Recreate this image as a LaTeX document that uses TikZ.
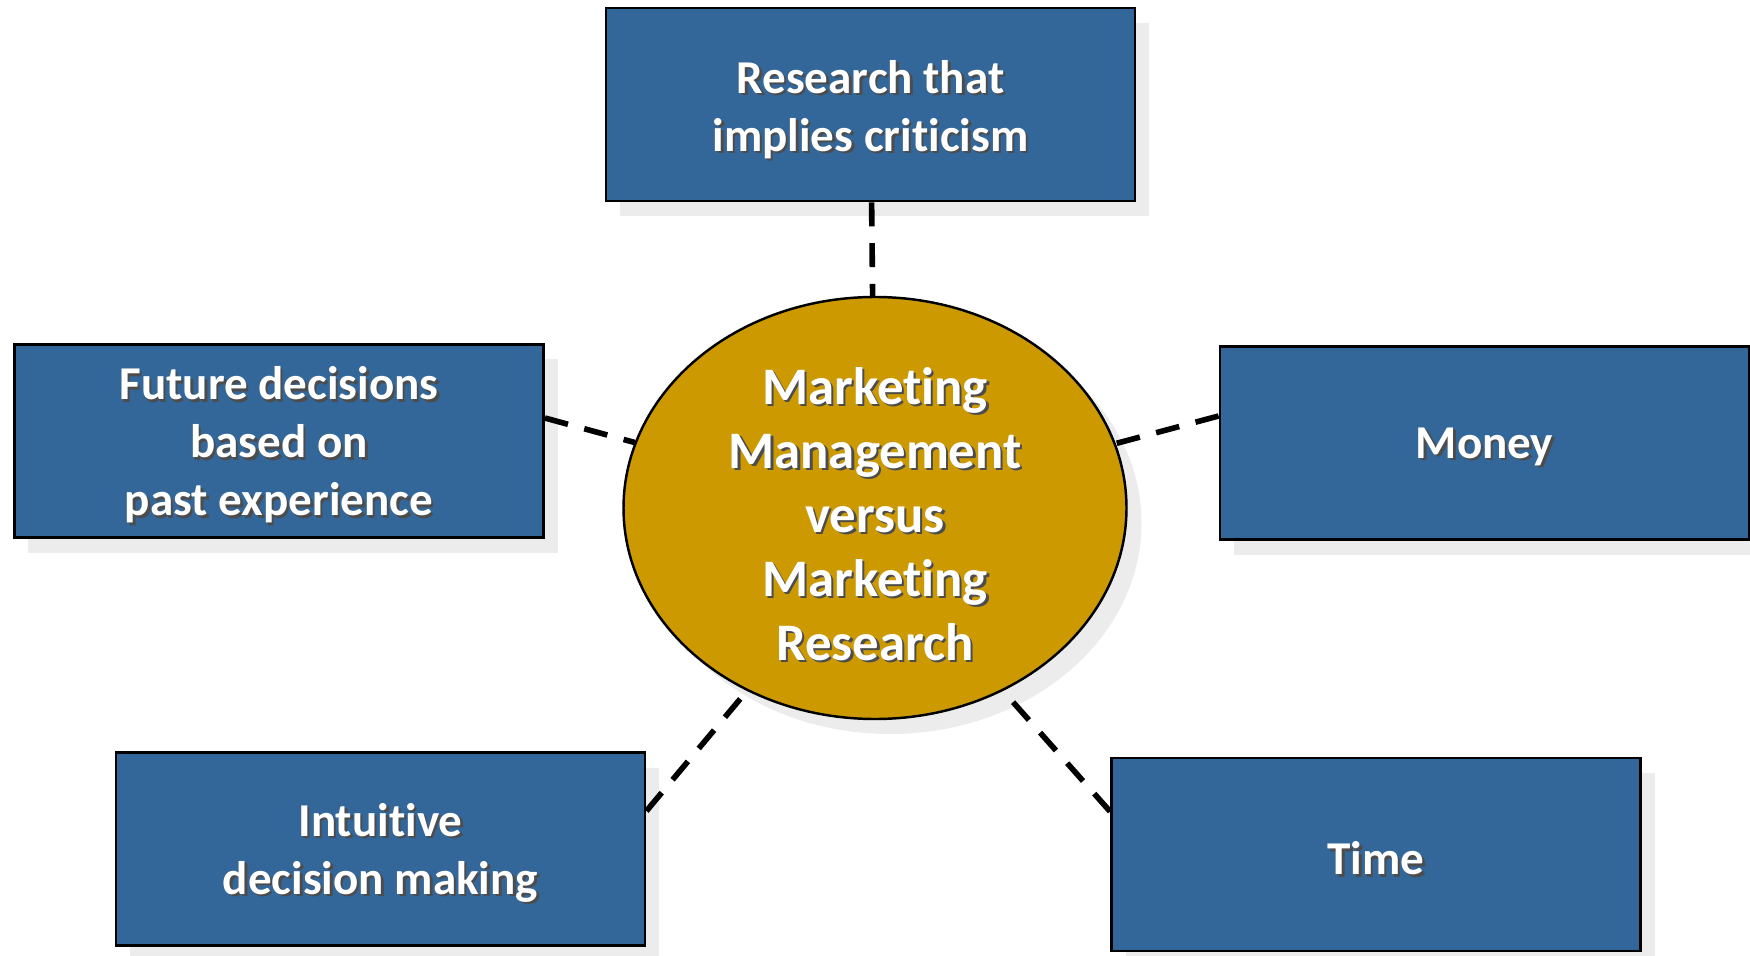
\documentclass[tikz,border=0pt]{standalone}
\usepackage{fontspec}
\setmainfont{Carlito}[Ligatures=NoCommon]
\usepackage{xcolor}
\usepackage{tikz}
\usetikzlibrary{shapes.geometric,shadows}

\definecolor{boxblue}{RGB}{51,102,153}
\definecolor{hubgold}{RGB}{204,153,0}
\definecolor{shadegray}{RGB}{236,236,236}

% white text with a small dark shadow under it
\newcommand{\shtext}[1]{\leavevmode\rlap{\kern0.7pt\raisebox{-0.7pt}{\color{black!70}#1}}#1}

\begin{document}
\begin{tikzpicture}[
    box/.style={rectangle, draw=black, line width=0.8pt, fill=boxblue,
        minimum width=5.29cm, minimum height=1.93cm,
        drop shadow={shadow xshift=0.14cm, shadow yshift=-0.15cm, fill=shadegray, opacity=1}},
    boxtext/.style={text=white, align=center, font=\bfseries\fontsize{13.4}{16.5}\selectfont},
    hub/.style={ellipse, draw=black, line width=0.7pt, fill=hubgold,
        minimum width=5.03cm, minimum height=4.22cm,
        drop shadow={shadow xshift=0.15cm, shadow yshift=-0.15cm, fill=shadegray, opacity=1}},
    hubtext/.style={text=white, align=center, font=\bfseries\fontsize{15}{18.2}\selectfont},
    link/.style={line width=1.6pt, dash pattern=on 6.8pt off 4.8pt}
]
    \useasboundingbox (0,0) rectangle (17.5,-9.56);

    % Centre
    \node[hub] (mm) at (8.75,-5.08) {};
    \node[hubtext] (mmtx) at ([yshift=-0.07cm]mm) {\shtext{Marketing}\\\shtext{Management}\\\shtext{versus}\\\shtext{Marketing}\\\shtext{Research}};

    % Boxes round it
    \node[box] (top) at (8.705,-1.045) {};
    \node[boxtext] (toptx) at ([yshift=-0.06cm]top) {\shtext{Research that}\\\shtext{implies criticism}};
    \node[box] (fut) at (2.79,-4.41) {};
    \node[boxtext] (futtx) at ([yshift=-0.05cm]fut) {\shtext{Future decisions}\\\shtext{based on}\\\shtext{past experience}};
    \node[box] (money) at (14.845,-4.43) {};
    \node[boxtext] (moneytx) at ([yshift=-0.05cm]money) {\shtext{Money}};
    \node[box] (intu) at (3.805,-8.49) {};
    \node[boxtext] (intutx) at ([yshift=-0.05cm]intu) {\shtext{Intuitive}\\\shtext{decision making}};
    \node[box] (time) at (13.76,-8.545) {};
    \node[boxtext] (timetx) at ([yshift=-0.05cm]time) {\shtext{Time}};

    % Dashed links
    \draw[link] (top) -- (mm);
    \draw[link] ([yshift=0.23cm]fut.east) -- (mm);
    \draw[link] ([yshift=0.27cm]money.west) -- (mm);
    \draw[link] ([yshift=0.38cm]intu.east) -- (mm.235);
    \draw[link] ([yshift=0.43cm]time.west) -- (mm.305);
\end{tikzpicture}
\end{document}
